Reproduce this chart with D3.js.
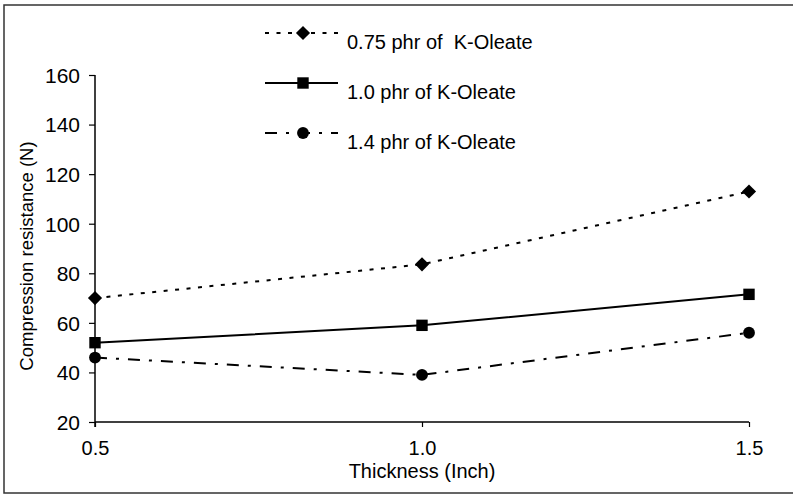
<!DOCTYPE html>
<html>
<head>
<meta charset="utf-8">
<script src="https://cdn.jsdelivr.net/npm/d3@7"></script>
<style>
  html, body { margin: 0; padding: 0; background: #fff; }
  svg { display: block; }
  text { font-family: "Liberation Sans", Arial, sans-serif; fill: #000; white-space: pre; }
</style>
</head>
<body>
<svg id="chart" width="793" height="494"></svg>
<script>
// Thickness values (inch) on the x axis
const thickness = [0.5, 1.0, 1.5];
const xTickLabels = ["0.5", "1.0", "1.5"];
const yTicks = [20, 40, 60, 80, 100, 120, 140, 160];

// Series names and compression resistance values (N)
const seriesNames = ["0.75 phr of  K-Oleate", "1.0 phr of K-Oleate", "1.4 phr of K-Oleate"];
const oleate075 = [70, 83.6, 113];
const oleate100 = [52, 59, 71.5];
const oleate140 = [46, 39, 56];

const svg = d3.select("#chart");
const W = 793;

// Frame around the figure
svg.append("rect")
  .attr("x", 4).attr("y", 5)
  .attr("width", W + 10).attr("height", 488)
  .attr("fill", "none").attr("stroke", "#333").attr("stroke-width", 1.5);

const x = d3.scaleLinear().domain([0.5, 1.5]).range([95, 749]);
const y = d3.scaleLinear().domain([20, 160]).range([422, 75]);

// Y axis
const yAxis = d3.axisLeft(y).tickValues(yTicks).tickSize(6).tickPadding(9).tickFormat(d3.format("d"));
const gy = svg.append("g").attr("transform", `translate(${x(0.5)},0)`).call(yAxis);
gy.select(".domain").attr("d", `M0,${y(160)}V${y(20) + 5}`).attr("stroke", "#000").attr("stroke-width", 1.5);
gy.selectAll(".tick line").attr("stroke", "#000").attr("stroke-width", 1.2);
gy.selectAll(".tick text").style("font-size", "21px").attr("dy", "0.35em");

// X axis
const xAxis = d3.axisBottom(x).tickValues(thickness).tickSize(5).tickPadding(14)
  .tickFormat((d, i) => xTickLabels[i]);
const gx = svg.append("g").attr("transform", `translate(0,${y(20)})`).call(xAxis);
gx.select(".domain").attr("d", `M${x(0.5)},0H${x(1.5)}`).attr("stroke", "#000").attr("stroke-width", 1.5);
gx.selectAll(".tick line").attr("stroke", "#000").attr("stroke-width", 1.2);
gx.selectAll(".tick text").style("font-size", "20px");

// Axis titles
svg.append("text")
  .attr("x", x(1.0)).attr("y", 478)
  .attr("text-anchor", "middle")
  .style("font-size", "20px")
  .text("Thickness (Inch)");

svg.append("text")
  .attr("transform", `translate(33,256) rotate(-90)`)
  .attr("text-anchor", "middle")
  .style("font-size", "18.5px")
  .text("Compression resistance (N)");

// Series styling; the diamond is a square turned by 45 degrees
const styles = [
  { dash: "4,7.5", marker: d3.symbolSquare, size: 100, rotate: 45 },
  { dash: null, marker: d3.symbolSquare, size: 130, rotate: 0 },
  { dash: "12,9,3,9", marker: d3.symbolCircle, size: 110, rotate: 0 }
];
const seriesValues = [oleate075, oleate100, oleate140];

const line = d3.line().x(d => x(d[0])).y(d => y(d[1]));

seriesValues.forEach((vals, i) => {
  const pts = thickness.map((t, j) => [t, vals[j]]);
  svg.append("path")
    .attr("d", line(pts))
    .attr("fill", "none")
    .attr("stroke", "#000")
    .attr("stroke-width", 2)
    .attr("stroke-dasharray", styles[i].dash);
  svg.selectAll(null).data(pts).enter().append("path")
    .attr("transform", d => `translate(${x(d[0])},${y(d[1])}) rotate(${styles[i].rotate})`)
    .attr("d", d3.symbol().type(styles[i].marker).size(styles[i].size))
    .attr("fill", "#000");
});

// Legend
const legendRows = [33, 83, 133];
seriesNames.forEach((name, i) => {
  const ly = legendRows[i];
  svg.append("line")
    .attr("x1", 265).attr("x2", 338).attr("y1", ly).attr("y2", ly)
    .attr("stroke", "#000").attr("stroke-width", 2)
    .attr("stroke-dasharray", styles[i].dash);
  svg.append("path")
    .attr("transform", `translate(303,${ly}) rotate(${styles[i].rotate})`)
    .attr("d", d3.symbol().type(styles[i].marker).size(styles[i].size))
    .attr("fill", "#000");
  svg.append("text")
    .attr("x", 347).attr("y", ly + 16)
    .style("font-size", "20px")
    .text(name);
});
</script>
</body>
</html>
